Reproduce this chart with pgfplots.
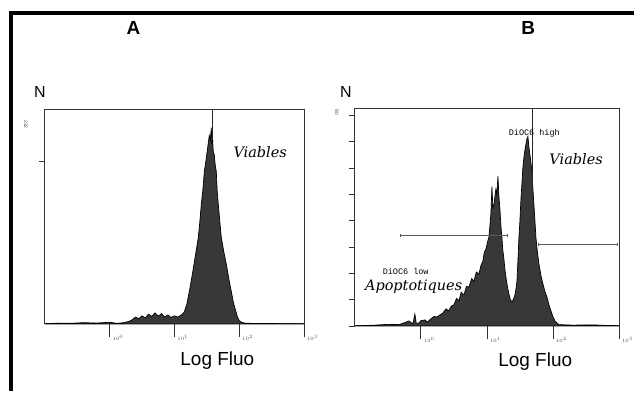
\documentclass[border=0pt]{standalone}
\usepackage{pgfplots}
\pgfplotsset{compat=1.18}
\usepackage{fontspec}
\setmainfont{Liberation Sans}
\newfontfamily\viafont{DejaVu Serif}
\newfontfamily\ttmono{Liberation Mono}

\pgfplotsset{
  flowhist/.style={
    scale only axis,
    anchor=south west,
    xmin=-1, xmax=3, ymin=0,
    axis line style={black!80, line width=0.9pt},
    xtick=\empty,
    extra x ticks={0,1,2,3},
    extra x tick labels={$10^0$,$10^1$,$10^2$,$10^3$},
    extra x tick style={major tick length=13pt,
      xticklabel style={font=\fontsize{5}{5}\selectfont, anchor=north west, xshift=-0.5pt, yshift=5pt, text=black!70}},
    minor xtick={-0.699,-0.523,-0.398,-0.301,-0.222,-0.155,-0.097,-0.046,
                 0.301,0.477,0.602,0.699,0.778,0.845,0.903,0.954,
                 1.301,1.477,1.602,1.699,1.778,1.845,1.903,1.954,
                 2.301,2.477,2.602,2.699,2.778,2.845,2.903,2.954},
    xtick pos=bottom, ytick pos=left,
    tick align=outside,
    major tick length=6pt, minor tick length=3pt,
    every tick/.style={black!80, line width=0.8pt},
    yticklabels={},
    clip=false,
  },
  histfill/.style={fill=black!78, draw=black, line width=0.7pt},
}

\begin{document}
\begin{tikzpicture}
\path (0pt,0pt) rectangle (636pt,392pt);
% outer frame
\draw[line width=4pt] (11pt,0pt) -- (11pt,379pt) -- (636pt,379pt);

% ---------------- Panel A ----------------
\begin{axis}[flowhist, at={(45pt,67pt)}, width=260pt, height=215pt,
  ymax=100, ytick={76}]
\addplot[histfill] coordinates {
(-1,0) (-0.8,0.4) (-0.6,0.3) (-0.4,0.6) (-0.2,0.4) (0,0.8) (0.1,0.3) (0.2,0.5)
(0.3,1.2) (0.35,2.0) (0.4,3.2) (0.45,2.4) (0.5,3.8) (0.55,2.8) (0.6,4.6) (0.65,3.5)
(0.7,5.2) (0.75,3.6) (0.8,4.8) (0.85,3.2) (0.9,4.2) (0.95,3.0) (1.0,3.8) (1.05,3.2)
(1.1,4.0) (1.15,5.5) (1.19,9) (1.231,15.3) (1.27,22) (1.308,29) (1.34,35) (1.369,40.5)
(1.39,47) (1.415,55.8) (1.44,63) (1.462,71.2) (1.485,76) (1.508,81) (1.525,85)
(1.538,88) (1.555,86) (1.569,91.6) (1.577,84) (1.585,89) (1.6,80) (1.615,79)
(1.63,74) (1.646,71.2) (1.66,62) (1.677,55.8) (1.70,48) (1.723,40.5) (1.76,34)
(1.8,28) (1.84,21) (1.877,15.3) (1.91,10) (1.938,7) (1.97,3.5) (2.0,1.5)
(2.05,0.6) (2.1,0.3) (2.5,0.2) (3,0)
} \closedcycle;
\addplot[black!85, line width=0.9pt] coordinates {(1.585,100) (1.585,86)};
\end{axis}

% ---------------- Panel B ----------------
\begin{axis}[flowhist, at={(356pt,65pt)}, width=265pt, height=218pt,
  ymax=82.6, ytick={0,10,...,80}]
\addplot[histfill] coordinates {
(-1,0) (-0.7,0.3) (-0.5,0.6) (-0.333,0.5) (-0.25,1.2) (-0.182,1.9) (-0.12,0.8)
(-0.091,4.5) (-0.07,1.0) (-0.03,1.1) (0.0,2.0) (0.061,2.3) (0.1,1.5) (0.152,2.7)
(0.2,3.6) (0.242,3.4) (0.29,4.2) (0.333,4.9) (0.38,6.5) (0.424,5.7) (0.46,7.5)
(0.5,8) (0.54,10.5) (0.576,9.5) (0.61,12.8) (0.652,11.8) (0.69,15) (0.727,14.8)
(0.77,18) (0.803,17) (0.84,20.5) (0.879,19.7) (0.91,23) (0.939,24.6) (0.96,28)
(0.985,29.2) (1.01,32) (1.03,33.7) (1.045,38) (1.06,42.5) (1.076,53) (1.09,45)
(1.106,46) (1.12,49) (1.136,52) (1.15,50) (1.167,56.9) (1.18,50) (1.197,44.4)
(1.212,38) (1.227,33.7) (1.24,29) (1.258,25.4) (1.27,22) (1.288,18.6) (1.31,15)
(1.333,12.1) (1.355,10) (1.379,9.1) (1.40,10) (1.424,11.8) (1.44,14) (1.455,17)
(1.47,25) (1.485,33.7) (1.50,40) (1.515,48) (1.53,54) (1.545,60.3) (1.56,64)
(1.576,67) (1.59,69) (1.606,71) (1.621,72) (1.636,68) (1.652,65) (1.667,62)
(1.682,58.8) (1.697,52) (1.712,46) (1.727,40) (1.742,33.7) (1.765,28) (1.788,23.5)
(1.82,19) (1.848,16) (1.88,13) (1.909,11) (1.94,8) (1.970,5.7) (2.0,3.5)
(2.03,1.9) (2.09,0.5) (2.3,0.3) (2.6,0.4) (3,0)
} \closedcycle;
\addplot[black!85, line width=0.9pt] coordinates {(1.697,82.6) (1.697,50)};
\addplot[black!65, line width=0.8pt, mark=|, mark size=1.5pt] coordinates {(-0.303,34.5) (1.303,34.5)};
\addplot[black!65, line width=0.8pt, mark=|, mark size=1.5pt] coordinates {(1.773,31.1) (2.97,31.1)};
\end{axis}

% ---------------- Texts ----------------
\node[font=\fontsize{19}{19}\selectfont\bfseries] at (134pt,364pt) {A};
\node[font=\fontsize{19}{19}\selectfont\bfseries] at (530pt,364pt) {B};
\node[font=\fontsize{16}{16}\selectfont] at (40pt,300pt) {N};
\node[font=\fontsize{16}{16}\selectfont] at (347pt,300pt) {N};
\node[font=\fontsize{19}{19}\selectfont] at (218pt,30pt) {Log Fluo};
\node[font=\fontsize{19}{19}\selectfont] at (537pt,29pt) {Log Fluo};
\node[font=\fontsize{5}{5}\selectfont, rotate=-90, text=black!70] at (26pt,267pt) {232};
\node[font=\fontsize{5}{5}\selectfont, rotate=-90, text=black!70] at (338pt,279pt) {80};
\node[font=\viafont\itshape\fontsize{14.5}{14.5}\selectfont] at (261pt,239pt) {Viables};
\node[font=\viafont\itshape\fontsize{14.5}{14.5}\selectfont] at (578pt,232pt) {Viables};
\node[font=\viafont\itshape\fontsize{14.5}{14.5}\selectfont] at (415pt,104pt) {Apoptotiques};
\node[font=\ttmono\fontsize{8.5}{8.5}\selectfont] at (407pt,120pt) {DiOC6 low};
\node[font=\ttmono\fontsize{8.5}{8.5}\selectfont] at (536pt,258pt) {DiOC6 high};
\end{tikzpicture}
\end{document}
